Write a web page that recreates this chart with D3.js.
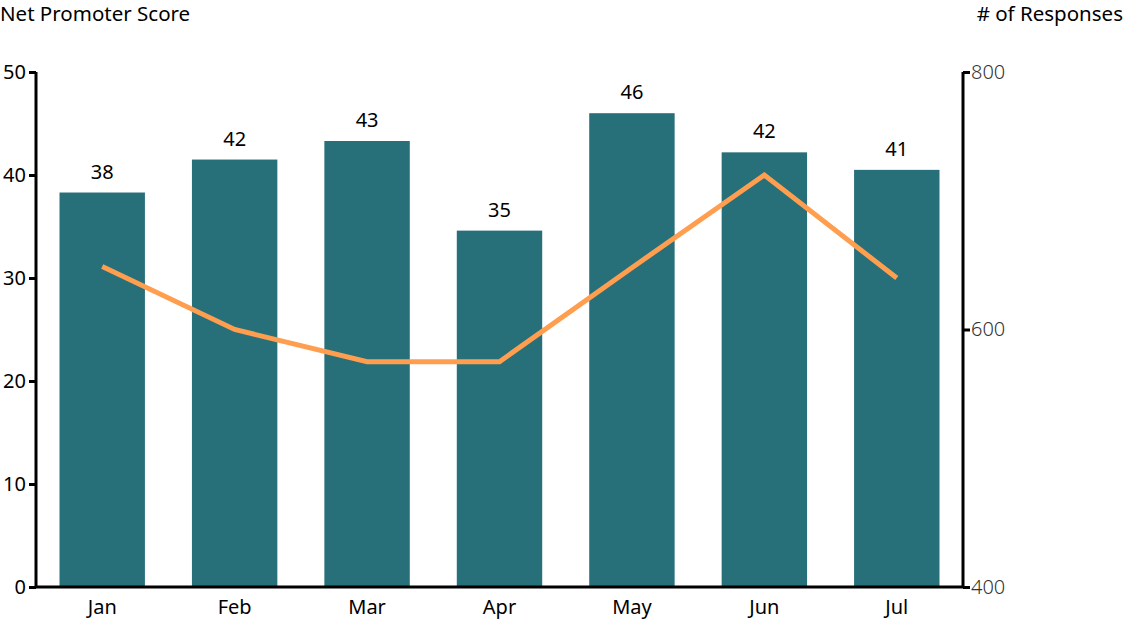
<!DOCTYPE html>
<html>
<head>
<meta charset="utf-8">
<script src="https://cdn.jsdelivr.net/npm/d3@7"></script>
<style>
  html, body { margin: 0; padding: 0; background: #fff; }
  svg { display: block; font-family: "Noto Sans", "Open Sans", sans-serif; }
</style>
</head>
<body>
<svg id="chart" width="1124" height="620"></svg>
<script>
const months = ["Jan", "Feb", "Mar", "Apr", "May", "Jun", "Jul"];
const npsScores = [38.3, 41.5, 43.3, 34.6, 46.0, 42.2, 40.5];
const responses = [649, 600, 575, 575, 648, 720, 640];
const leftTicks = [0, 10, 20, 30, 40, 50];
const rightTicks = [400, 600, 800];

const svg = d3.select("#chart");
const pLeft = 36, pRight = 963, pTop = 72, pBottom = 587;

const x = d3.scaleBand().domain(months).range([pLeft, pRight])
  .paddingInner(0.355).paddingOuter(0.1775);
const yL = d3.scaleLinear().domain([0, 50]).range([pBottom, pTop]);
const yR = d3.scaleLinear().domain([400, 800]).range([pBottom, pTop]);

// bars
svg.append("g").selectAll("rect").data(months).join("rect")
  .attr("x", d => x(d))
  .attr("width", x.bandwidth())
  .attr("y", (d, i) => yL(npsScores[i]))
  .attr("height", (d, i) => pBottom - yL(npsScores[i]))
  .attr("fill", "#277079");

// bar labels
svg.append("g").selectAll("text").data(months).join("text")
  .attr("x", d => x(d) + x.bandwidth() / 2)
  .attr("y", (d, i) => yL(npsScores[i]) - 14)
  .attr("text-anchor", "middle")
  .attr("font-size", 20)
  .attr("fill", "#000")
  .text((d, i) => Math.round(npsScores[i]));

// line
const line = d3.line()
  .x((d, i) => x(months[i]) + x.bandwidth() / 2)
  .y(d => yR(d));
svg.append("path").datum(responses)
  .attr("d", line)
  .attr("fill", "none")
  .attr("stroke", "#FF9E4F")
  .attr("stroke-width", 5)
  .attr("stroke-linejoin", "miter");

// axes
const axL = svg.append("g").attr("transform", `translate(${pLeft},0)`)
  .call(d3.axisLeft(yL).tickValues(leftTicks).tickSize(7).tickPadding(3));
axL.selectAll("path, line").attr("stroke", "#000").attr("stroke-width", 3);
axL.select(".domain").attr("d", `M0,${pTop}V${pBottom}`);
axL.selectAll("text").attr("font-size", 20).attr("fill", "#000").attr("font-family", "Noto Sans");

const axR = svg.append("g").attr("transform", `translate(${pRight},0)`)
  .call(d3.axisRight(yR).tickValues(rightTicks).tickSize(7).tickPadding(1));
axR.selectAll("path, line").attr("stroke", "#000").attr("stroke-width", 3);
axR.select(".domain").attr("d", `M0,${pTop}V${pBottom}`);
axR.selectAll("text").attr("font-size", 20).attr("fill", "#333").attr("font-weight", 300).attr("font-family", "Noto Sans");

const axB = svg.append("g").attr("transform", `translate(0,${pBottom})`)
  .call(d3.axisBottom(x).tickSize(0).tickPadding(13));
axB.select(".domain").attr("stroke", "#000").attr("stroke-width", 3)
  .attr("d", `M${pLeft},0H${pRight}`);
axB.selectAll("text").attr("font-size", 20).attr("fill", "#000").attr("font-family", "Noto Sans");

// axis titles
svg.append("text").attr("x", 0).attr("y", 21)
  .attr("font-size", 20.5).attr("fill", "#000").text("Net Promoter Score");
svg.append("text").attr("x", 1123).attr("y", 21).attr("text-anchor", "end")
  .attr("font-size", 20.5).attr("fill", "#000").text("# of Responses");
</script>
</body>
</html>
